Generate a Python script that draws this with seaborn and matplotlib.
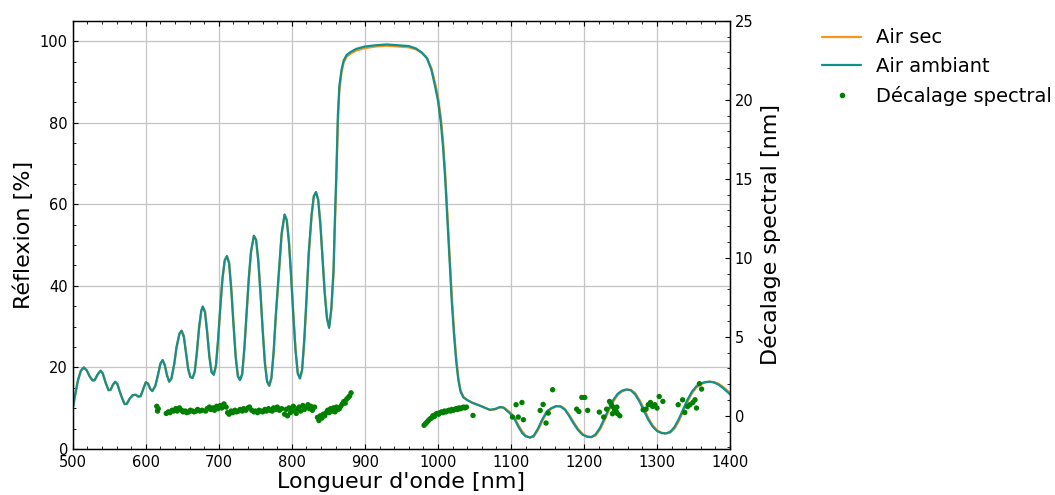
import numpy as np
import pandas as pd
import matplotlib
matplotlib.use("Agg")
import matplotlib.pyplot as plt
from matplotlib.ticker import MultipleLocator
from matplotlib.lines import Line2D
import seaborn as sns

# -----------------------------
# Reflection spectra
# -----------------------------
wavelength = [
    500, 503, 507, 511, 515, 519, 523, 527, 530, 534, 538, 541, 545, 549, 552, 555, 558, 561,
    564, 568, 571, 574, 578, 582, 586, 590, 593, 597, 600, 603, 606, 609, 613, 617, 620, 623,
    626, 629, 632, 635, 639, 642, 646, 649, 652, 655, 658, 661, 664, 667, 670, 673, 676, 678,
    681, 684, 687, 690, 693, 696, 699, 702, 705, 708, 711, 714, 717, 720, 723, 726, 729, 732,
    735, 738, 741, 744, 748, 751, 754, 757, 760, 763, 766, 769, 772, 775, 778, 782, 786, 790,
    793, 796, 799, 802, 805, 808, 811, 814, 817, 820, 823, 827, 830, 833, 836, 839, 842, 845,
    848, 851, 854, 857, 859, 861, 863, 865, 868, 871, 875, 880, 888, 900, 915, 930, 945, 960,
    970, 978, 985, 991, 996, 1000, 1004, 1007, 1010, 1013, 1016, 1019, 1022, 1025, 1028, 1031,
    1035, 1040, 1047, 1055, 1063, 1071, 1078, 1085, 1090, 1095, 1100, 1105, 1110, 1115, 1120,
    1126, 1131, 1137, 1143, 1149, 1155, 1162, 1168, 1174, 1180, 1186, 1192, 1198, 1204, 1210,
    1216, 1222, 1228, 1234, 1240, 1246, 1252, 1258, 1264, 1270, 1276, 1282, 1288, 1294, 1300,
    1306, 1312, 1318, 1324, 1330, 1336, 1342, 1348, 1354, 1360, 1366, 1372, 1378, 1384, 1390,
    1395, 1400,
]

air_ambiant = [
    10.0, 13.0, 16.8, 19.2, 20.0, 19.3, 17.8, 16.8, 16.9, 18.3, 19.2, 18.5, 16.2, 14.4, 14.6, 15.8, 16.5, 15.9,
    14.2, 12.2, 11.0, 11.1, 12.4, 13.2, 13.3, 12.8, 13.0, 15.0, 16.4, 16.0, 14.7, 14.2, 15.5, 18.5, 21.0, 21.8,
    20.5, 18.0, 16.5, 17.3, 21.0, 25.0, 28.3, 29.0, 27.5, 23.5, 19.5, 17.6, 17.4, 19.0, 24.0, 30.0, 34.0, 34.9,
    33.5, 28.5, 22.5, 18.8, 18.2, 20.5, 27.0, 35.0, 42.0, 46.3, 47.3, 45.5, 39.0, 30.5, 22.5, 17.8, 16.9, 18.5,
    25.0, 33.5, 42.0, 48.5, 52.3, 51.2, 46.0, 38.0, 29.0, 21.0, 16.5, 15.5, 17.5, 24.0, 33.0, 43.0, 53.0, 57.5,
    56.0, 50.5, 42.0, 32.5, 24.0, 18.5, 17.3, 19.5, 27.0, 37.0, 48.0, 57.5, 62.0, 63.0, 61.0, 55.0, 46.5, 38.0,
    32.0, 29.7, 34.5, 44.0, 57.0, 68.5, 82.0, 89.0, 93.0, 95.3, 96.6, 97.3, 98.1, 98.7, 99.0, 99.2, 99.0, 98.8,
    98.2, 97.2, 95.8, 93.0, 89.0, 85.5, 80.0, 74.0, 66.0, 56.0, 45.5, 36.0, 28.0, 21.5, 16.8, 14.0,
    12.6, 12.0, 11.3, 10.8, 10.2, 9.6, 9.8, 10.3, 10.1, 9.3, 8.5, 7.3, 5.5, 4.0, 3.1,
    2.8, 3.2, 5.0, 7.3, 9.2, 10.0, 10.5, 10.4, 9.6, 8.0, 6.2, 4.6, 3.5, 3.0, 2.9,
    3.6, 5.2, 7.5, 9.9, 12.0, 13.5, 14.3, 14.6, 14.4, 13.4, 11.6, 9.4, 7.2, 5.5, 4.4,
    3.9, 3.8, 4.2, 5.4, 7.4, 9.8, 12.2, 14.1, 15.4, 16.1, 16.4, 16.5, 16.3, 15.8, 15.0,
    14.2, 13.4,
]

air_sec = [
    10.0, 13.0, 16.7, 19.1, 20.0, 19.3, 17.9, 16.8, 16.8, 18.2, 19.1, 18.6, 16.3, 14.4, 14.5, 15.7, 16.4, 16.0,
    14.3, 12.3, 11.0, 11.0, 12.3, 13.1, 13.3, 12.9, 12.9, 14.9, 16.3, 16.1, 14.8, 14.2, 15.4, 18.3, 20.8, 21.8,
    20.7, 18.2, 16.5, 17.1, 20.7, 24.7, 28.1, 29.0, 27.8, 23.9, 19.8, 17.7, 17.4, 18.8, 23.6, 29.6, 33.8, 34.9,
    33.8, 29.0, 23.0, 19.0, 18.2, 20.2, 26.4, 34.4, 41.5, 46.0, 47.3, 45.9, 39.7, 31.2, 23.1, 18.1, 16.9, 18.2,
    24.4, 32.8, 41.4, 48.0, 52.2, 51.4, 46.6, 38.7, 29.7, 21.6, 16.8, 15.5, 17.2, 23.3, 32.2, 42.2, 52.4, 57.4,
    56.3, 51.1, 42.8, 33.3, 24.7, 18.9, 17.3, 19.1, 26.2, 36.1, 47.2, 57.0, 61.8, 63.0, 61.3, 55.6, 47.2, 38.7,
    32.5, 29.8, 33.8, 42.5, 55.0, 66.5, 80.0, 87.8, 92.4, 94.8, 96.2, 96.9, 97.7, 98.3, 98.7, 98.9, 98.7, 98.5,
    98.0, 97.1, 95.9, 93.4, 89.8, 86.4, 81.2, 75.4, 67.6, 57.6, 47.2, 37.5, 29.2, 22.5, 17.4, 14.4,
    12.8, 12.0, 11.4, 10.8, 10.2, 9.6, 9.7, 10.2, 10.2, 9.5, 8.8, 7.7, 5.9, 4.4, 3.3,
    2.8, 3.0, 4.6, 6.9, 8.9, 9.8, 10.5, 10.5, 9.8, 8.3, 6.5, 4.9, 3.7, 3.1, 2.9,
    3.3, 4.8, 7.0, 9.4, 11.6, 13.2, 14.1, 14.5, 14.5, 13.7, 12.0, 9.9, 7.6, 5.8, 4.6,
    4.0, 3.8, 4.0, 5.0, 6.9, 9.3, 11.7, 13.7, 15.1, 15.9, 16.3, 16.5, 16.4, 16.0, 15.3,
    14.5, 13.7,
]

# -----------------------------
# Spectral shift points
# -----------------------------
shift_wl = [
    615, 616, 617,
    628, 631, 633, 636, 638, 641, 643, 646, 649, 651,
    654, 656, 659, 661, 664, 666, 669, 671, 674, 677,
    682, 684, 687, 689, 692, 694, 697, 699, 702, 704, 707, 710,
    712, 714, 717, 719, 722, 724, 727, 729, 732, 734, 737, 740, 742, 745,
    748, 750, 753, 755, 758, 760, 763, 765, 768, 770, 773, 775, 778, 780, 783, 786,
    790, 792, 794, 796, 798, 800, 802, 804, 806, 808, 810, 812, 815, 817, 819, 822, 824, 826, 828, 831,
    835, 837, 839, 841, 843, 845, 847,
    849, 851, 853, 855, 857, 859, 861, 863, 865,
    867, 869, 871, 873, 875, 877, 879, 881,
    981, 983, 985, 987, 989, 991, 993, 995, 997, 999, 1001, 1003, 1005, 1007, 1009,
    1011, 1013, 1015, 1017, 1019, 1021, 1023, 1025, 1027, 1029, 1031, 1033, 1035, 1037, 1039,
    1048,
    1102, 1107, 1110, 1115, 1117, 1140, 1144, 1148, 1151, 1157,
    1190, 1193, 1197, 1201, 1205, 1221, 1227, 1231,
    1235, 1237, 1239, 1242, 1244, 1246, 1249, 1239, 1242, 1245,
    1281, 1285, 1288, 1291, 1294, 1297, 1300, 1303, 1308,
    1329, 1335, 1338, 1342, 1345, 1349, 1352, 1354, 1358, 1361,
]

shift_nm = [
    0.6, 0.3, 0.45,
    0.15, 0.25, 0.2, 0.35, 0.3, 0.45, 0.3, 0.5, 0.35, 0.25,
    0.3, 0.2, 0.25, 0.35, 0.3, 0.25, 0.3, 0.4, 0.3, 0.35,
    0.3, 0.45, 0.55, 0.4, 0.5, 0.35, 0.6, 0.45, 0.65, 0.5, 0.75, 0.55,
    0.2, 0.1, 0.3, 0.2, 0.35, 0.25, 0.3, 0.4, 0.3, 0.45, 0.35, 0.5, 0.55, 0.35,
    0.25, 0.3, 0.2, 0.35, 0.3, 0.25, 0.4, 0.3, 0.45, 0.35, 0.3, 0.5, 0.4, 0.55, 0.35, 0.45,
    0.1, 0.4, 0.0, 0.5, 0.2, 0.35, 0.6, 0.3, 0.15, 0.45, 0.55, 0.3, 0.65, 0.4, 0.5, 0.7, 0.45, 0.6, 0.35, 0.55,
    -0.1, -0.3, 0.0, -0.15, 0.1, 0.0, 0.2,
    0.35, 0.2, 0.45, 0.3, 0.5, 0.25, 0.55, 0.4, 0.45,
    0.6, 0.75, 0.9, 0.8, 1.05, 1.15, 1.25, 1.45,
    -0.6, -0.5, -0.4, -0.3, -0.2, -0.15, 0.0, -0.05, 0.1, 0.15, 0.1, 0.2, 0.25, 0.2, 0.3,
    0.25, 0.3, 0.35, 0.3, 0.4, 0.35, 0.4, 0.45, 0.4, 0.5, 0.45, 0.5, 0.55, 0.5, 0.55,
    0.02,
    -0.08, 0.70, -0.08, 0.84, -0.25, 0.34, 0.72, -0.46, 0.17, 1.65,
    0.42, 0.27, 1.16, 1.16, 0.34, 0.23, -0.08, 0.42,
    0.91, 0.76, 0.59, 0.42, 0.27, 0.13, 0.0, 0.13, 0.34, 0.55,
    0.38, 0.42, 0.70, 0.84, 0.59, 0.70, 0.49, 1.22, 0.91,
    0.70, 1.01, 0.21, 0.59, 0.70, 0.84, 1.01, 0.49, 2.03, 1.69,
]

spectra = pd.DataFrame({"wl": wavelength, "sec": air_sec, "amb": air_ambiant})
shifts = pd.DataFrame({"wl": shift_wl, "shift": shift_nm})

col_sec = "#f7941d"
col_amb = "#12908c"
col_pts = "green"

# -----------------------------
# Plot
# -----------------------------
sns.set_style("ticks")
plt.rcParams["font.family"] = ["DejaVu Sans"]
plt.rcParams["text.color"] = "black"
plt.rcParams["axes.labelcolor"] = "black"
plt.rcParams["xtick.color"] = "black"
plt.rcParams["ytick.color"] = "black"

fig = plt.figure(figsize=(10.55, 4.95), dpi=100)
ax = fig.add_axes([0.069, 0.093, 0.623, 0.865])

sns.lineplot(data=spectra, x="wl", y="sec", ax=ax, color=col_sec, lw=1.6,
             estimator=None, sort=False)
sns.lineplot(data=spectra, x="wl", y="amb", ax=ax, color=col_amb, lw=1.6,
             estimator=None, sort=False)

ax.set_xlim(500, 1400)
ax.set_ylim(0, 105)
ax.xaxis.set_major_locator(MultipleLocator(100))
ax.xaxis.set_minor_locator(MultipleLocator(20))
ax.yaxis.set_major_locator(MultipleLocator(20))
ax.yaxis.set_minor_locator(MultipleLocator(5))
ax.grid(True, which="major", color="#c4c4c4", lw=0.9)
ax.tick_params(which="both", direction="in", top=True, labelsize=10.5)
ax.tick_params(axis="x", pad=4.5)
ax.tick_params(which="major", length=3.5)
ax.tick_params(which="minor", length=2)
ax.set_xlabel("Longueur d'onde [nm]", fontsize=16, labelpad=1)
ax.set_ylabel("Réflexion [%]", fontsize=16)

ax2 = ax.twinx()
sns.scatterplot(data=shifts, x="wl", y="shift", ax=ax2, color=col_pts, s=15,
                edgecolor="none", linewidth=0)
ax2.set_ylim(-2.1, 25)
ax2.yaxis.set_major_locator(MultipleLocator(5))
ax2.yaxis.set_minor_locator(MultipleLocator(1))
ax2.tick_params(which="both", direction="in", labelsize=10.5)
ax2.tick_params(which="major", length=3.5)
ax2.tick_params(which="minor", length=2)
ax2.set_ylabel("Décalage spectral [nm]", fontsize=16)

for a in (ax, ax2):
    for s in a.spines.values():
        s.set_color("black")
        s.set_linewidth(0.9)

handles = [
    Line2D([], [], color=col_sec, lw=1.6),
    Line2D([], [], color=col_amb, lw=1.6),
    Line2D([], [], color=col_pts, marker="o", ls="none", markersize=3),
]
fig.legend(handles, ["Air sec", "Air ambiant", "Décalage spectral"],
           loc="upper left", bbox_to_anchor=(0.763, 0.978), frameon=False,
           fontsize=14, handlelength=2.0, handletextpad=0.75, labelspacing=0.5)

plt.savefig("out.png", dpi=100)
